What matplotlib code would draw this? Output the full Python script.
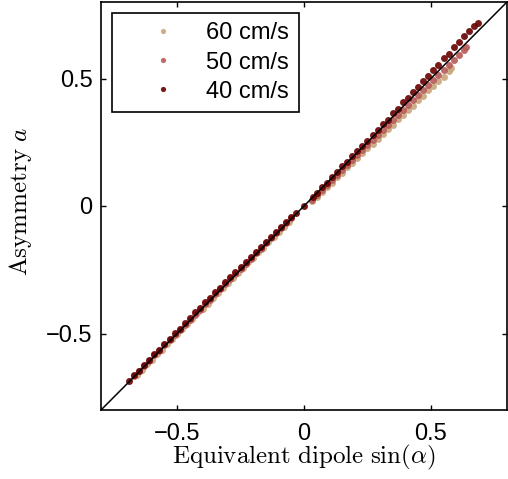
import matplotlib
matplotlib.use("Agg")
import matplotlib.pyplot as plt

plt.rcParams['font.family'] = ['Liberation Sans', 'DejaVu Sans']
plt.rcParams['mathtext.fontset'] = 'cm'

# values: equivalent dipole sin(alpha) vs asymmetry a
labels = ['60 cm/s', '50 cm/s', '40 cm/s']
colors = ['#c9a57c', '#b65a58', '#680000']

x60 = [-0.66, -0.64, -0.62, -0.60, -0.58, -0.56, -0.54, -0.52, -0.50, -0.48,
       -0.46, -0.44, -0.42, -0.40, -0.38, -0.36, -0.34, -0.32, -0.30, -0.28,
       -0.26, -0.24, -0.22, -0.20, -0.18, -0.16, -0.14, -0.12, -0.10, -0.08,
       -0.06,
       0.03, 0.05, 0.07, 0.09, 0.11, 0.13, 0.15, 0.17, 0.19, 0.21,
       0.23, 0.25, 0.27, 0.29, 0.31, 0.33, 0.35, 0.37, 0.39, 0.41,
       0.43, 0.45, 0.47, 0.49, 0.51, 0.53, 0.55, 0.57, 0.58]
y60 = [-0.662, -0.643, -0.621, -0.603, -0.582, -0.563, -0.541, -0.522, -0.503, -0.482,
       -0.462, -0.443, -0.421, -0.402, -0.383, -0.361, -0.343, -0.322, -0.302, -0.283,
       -0.262, -0.243, -0.221, -0.203, -0.182, -0.163, -0.141, -0.122, -0.103, -0.082,
       -0.063,
       0.018, 0.037, 0.054, 0.075, 0.092, 0.113, 0.130, 0.151, 0.167, 0.188,
       0.206, 0.226, 0.244, 0.264, 0.282, 0.302, 0.319, 0.340, 0.356, 0.378,
       0.394, 0.415, 0.431, 0.453, 0.469, 0.490, 0.507, 0.528, 0.540]

x50 = [-0.67, -0.65, -0.63, -0.61, -0.59, -0.57, -0.55, -0.53, -0.51, -0.49,
       -0.47, -0.45, -0.43, -0.41, -0.39, -0.37, -0.35, -0.33, -0.31, -0.29,
       -0.27, -0.25, -0.23, -0.21, -0.19, -0.17, -0.15, -0.13, -0.11, -0.09,
       -0.07, -0.05,
       0.03, 0.05, 0.07, 0.09, 0.11, 0.13, 0.15, 0.17, 0.19, 0.21,
       0.23, 0.25, 0.27, 0.29, 0.31, 0.33, 0.35, 0.37, 0.39, 0.41,
       0.43, 0.45, 0.47, 0.49, 0.51, 0.53, 0.55, 0.57, 0.59, 0.61,
       0.63, 0.64]
y50 = [-0.668, -0.647, -0.626, -0.607, -0.586, -0.567, -0.546, -0.527, -0.506, -0.487,
       -0.466, -0.447, -0.426, -0.407, -0.386, -0.367, -0.346, -0.327, -0.306, -0.287,
       -0.266, -0.247, -0.226, -0.207, -0.186, -0.167, -0.146, -0.127, -0.106, -0.087,
       -0.066, -0.046,
       0.024, 0.043, 0.064, 0.082, 0.103, 0.121, 0.143, 0.160, 0.182, 0.199,
       0.221, 0.239, 0.260, 0.278, 0.299, 0.317, 0.339, 0.356, 0.378, 0.395,
       0.417, 0.434, 0.456, 0.473, 0.495, 0.513, 0.534, 0.552, 0.573, 0.591,
       0.613, 0.622]

x40 = [-0.69, -0.67, -0.65, -0.63, -0.61, -0.59, -0.57, -0.55, -0.53, -0.51,
       -0.49, -0.47, -0.45, -0.43, -0.41, -0.39, -0.37, -0.35, -0.33, -0.31,
       -0.29, -0.27, -0.25, -0.23, -0.21, -0.19, -0.17, -0.15, -0.13, -0.11,
       -0.09, -0.07, -0.05, -0.03,
       0.0,
       0.035, 0.05, 0.07, 0.09, 0.11, 0.13, 0.15, 0.17, 0.19, 0.21,
       0.23, 0.25, 0.27, 0.29, 0.31, 0.33, 0.35, 0.37, 0.39, 0.41,
       0.43, 0.45, 0.47, 0.49, 0.51, 0.53, 0.55, 0.57, 0.59, 0.61,
       0.63, 0.65, 0.67, 0.685]
y40 = [-0.688, -0.664, -0.646, -0.622, -0.604, -0.581, -0.563, -0.540, -0.522, -0.499,
       -0.481, -0.458, -0.441, -0.417, -0.400, -0.377, -0.360, -0.337, -0.320, -0.297,
       -0.280, -0.258, -0.240, -0.218, -0.201, -0.179, -0.162, -0.140, -0.122, -0.101,
       -0.083, -0.062, -0.044, -0.028,
       0.0,
       0.036, 0.052, 0.073, 0.092, 0.114, 0.133, 0.155, 0.173, 0.196, 0.214,
       0.237, 0.255, 0.279, 0.297, 0.321, 0.339, 0.363, 0.381, 0.406, 0.424,
       0.448, 0.467, 0.491, 0.510, 0.535, 0.554, 0.579, 0.598, 0.623, 0.642,
       0.667, 0.687, 0.706, 0.718]

series_x = [x60, x50, x40]
series_y = [y60, y50, y40]

fig = plt.figure(figsize=(5.08, 4.79), dpi=100)
ax = fig.add_axes([101 / 508, 69 / 479, 406 / 508, 408 / 479])

for xs, ys, lab, c in zip(series_x, series_y, labels, colors):
    ax.plot(xs, ys, 'o', ms=5.0, mec='none', mfc=c, alpha=0.9, label=lab)

ax.plot([-0.8, 0.8], [-0.8, 0.8], color='black', lw=1.1, zorder=5)

ax.set_xlim(-0.8, 0.8)
ax.set_ylim(-0.8, 0.8)
ax.set_xticks([-0.5, 0, 0.5])
ax.set_yticks([-0.5, 0, 0.5])
ax.set_xticklabels(['\u22120.5', '0', '0.5'])
ax.set_yticklabels(['\u22120.5', '0', '0.5'])
ax.tick_params(direction='in', length=3.5, width=1, labelsize=17,
               top=True, right=True)
ax.tick_params(axis='y', pad=6)
ax.tick_params(axis='x', pad=9)
for sp in ax.spines.values():
    sp.set_linewidth(1.2)

ax.set_xlabel(r'$\mathrm{Equivalent\ dipole}\ \sin(\alpha)$', fontsize=18)
ax.set_ylabel(r'$\mathrm{Asymmetry}\ a$', fontsize=18)
ax.xaxis.set_label_coords(0.5, -0.08)
ax.yaxis.set_label_coords(-0.165, 0.51)

leg = ax.legend(loc='upper left', bbox_to_anchor=(11 / 406, 1 - 11 / 408),
                borderaxespad=0, fontsize=17, frameon=True, fancybox=False,
                framealpha=1, edgecolor='black', borderpad=0.4,
                handlelength=3.5, handletextpad=0.1, labelspacing=0.3,
                markerscale=0.75)
leg.get_frame().set_linewidth(1.2)

fig.savefig('out.png', dpi=100)
